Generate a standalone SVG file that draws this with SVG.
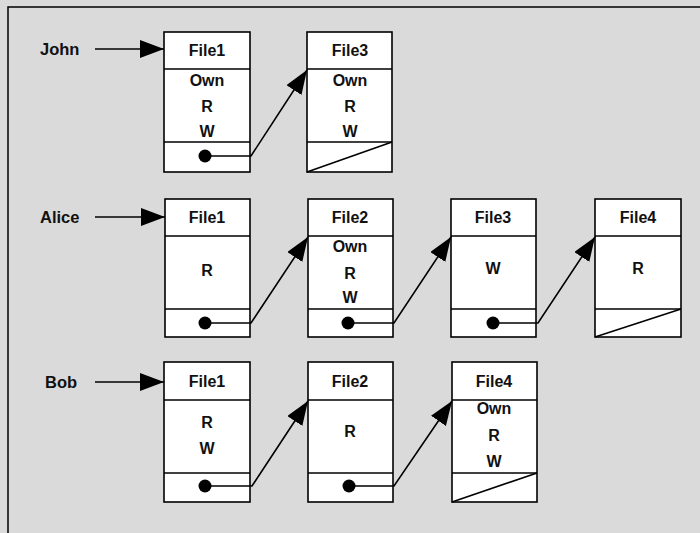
<svg xmlns="http://www.w3.org/2000/svg" width="700" height="533" viewBox="0 0 700 533">
<defs>
<marker id="ah" markerUnits="userSpaceOnUse" markerWidth="26" markerHeight="20" refX="24" refY="9" orient="auto">
<path d="M0,0 L24,9 L0,18 Z" fill="#000"/>
</marker>
<style>
.box{fill:#fff;stroke:#000;stroke-width:1.6}
.sep{stroke:#000;stroke-width:1.6}
.t{font-family:"Liberation Sans",Arial,sans-serif;font-weight:bold;font-size:16px;text-anchor:middle;fill:#111}
.lbl{font-family:"Liberation Sans",Arial,sans-serif;font-weight:bold;font-size:16.5px;fill:#111}
.ln{stroke:#000;stroke-width:1.6;fill:none}
.dot{fill:#000}
</style>
</defs>
<rect x="0" y="0" width="700" height="533" fill="#dadada"/>
<path d="M8,533 V7 H700" fill="none" stroke="#000" stroke-width="1.5"/>

<g id="label-john"><text class="lbl" x="40" y="55">John</text></g>
<g id="label-alice"><text class="lbl" x="40" y="223">Alice</text></g>
<g id="label-bob"><text class="lbl" x="45" y="388">Bob</text></g>

<g id="john-file1">
<rect class="box" x="164" y="32" width="86" height="140"/>
<line class="sep" x1="164" y1="69" x2="250" y2="69"/>
<line class="sep" x1="164" y1="142" x2="250" y2="142"/>
<text class="t" x="207" y="56">File1</text>
<text class="t" x="207" y="86">Own</text>
<text class="t" x="207" y="112">R</text>
<text class="t" x="207" y="137">W</text>
</g>
<g id="john-file3">
<rect class="box" x="307" y="32" width="85" height="140"/>
<line class="sep" x1="307" y1="69" x2="392" y2="69"/>
<line class="sep" x1="307" y1="142" x2="392" y2="142"/>
<text class="t" x="350" y="56">File3</text>
<text class="t" x="350" y="86">Own</text>
<text class="t" x="350" y="112">R</text>
<text class="t" x="350" y="137">W</text>
<line class="sep" x1="307" y1="172" x2="392" y2="142"/>
</g>

<g id="alice-file1">
<rect class="box" x="165" y="199" width="85" height="138"/>
<line class="sep" x1="165" y1="236" x2="250" y2="236"/>
<line class="sep" x1="165" y1="309" x2="250" y2="309"/>
<text class="t" x="207" y="223">File1</text>
<text class="t" x="207" y="276">R</text>
</g>
<g id="alice-file2">
<rect class="box" x="308" y="199" width="85" height="138"/>
<line class="sep" x1="308" y1="236" x2="393" y2="236"/>
<line class="sep" x1="308" y1="309" x2="393" y2="309"/>
<text class="t" x="350" y="223">File2</text>
<text class="t" x="350" y="252">Own</text>
<text class="t" x="350" y="279">R</text>
<text class="t" x="350" y="303">W</text>
</g>
<g id="alice-file3">
<rect class="box" x="451" y="199" width="85" height="138"/>
<line class="sep" x1="451" y1="236" x2="536" y2="236"/>
<line class="sep" x1="451" y1="309" x2="536" y2="309"/>
<text class="t" x="493" y="223">File3</text>
<text class="t" x="493" y="274">W</text>
</g>
<g id="alice-file4">
<rect class="box" x="595" y="199" width="86" height="138"/>
<line class="sep" x1="595" y1="236" x2="681" y2="236"/>
<line class="sep" x1="595" y1="309" x2="681" y2="309"/>
<text class="t" x="638" y="223">File4</text>
<text class="t" x="638" y="274">R</text>
<line class="sep" x1="595" y1="337" x2="681" y2="309"/>
</g>

<g id="bob-file1">
<rect class="box" x="164" y="362" width="86" height="140"/>
<line class="sep" x1="164" y1="400" x2="250" y2="400"/>
<line class="sep" x1="164" y1="473" x2="250" y2="473"/>
<text class="t" x="207" y="387">File1</text>
<text class="t" x="207" y="428">R</text>
<text class="t" x="207" y="454">W</text>
</g>
<g id="bob-file2">
<rect class="box" x="308" y="362" width="85" height="140"/>
<line class="sep" x1="308" y1="400" x2="393" y2="400"/>
<line class="sep" x1="308" y1="473" x2="393" y2="473"/>
<text class="t" x="350" y="387">File2</text>
<text class="t" x="350" y="437">R</text>
</g>
<g id="bob-file4">
<rect class="box" x="452" y="362" width="85" height="140"/>
<line class="sep" x1="452" y1="400" x2="537" y2="400"/>
<line class="sep" x1="452" y1="473" x2="537" y2="473"/>
<text class="t" x="494" y="387">File4</text>
<text class="t" x="494" y="414">Own</text>
<text class="t" x="494" y="441">R</text>
<text class="t" x="494" y="467">W</text>
<line class="sep" x1="452" y1="502" x2="537" y2="473"/>
</g>

<g id="connectors">
<line class="ln" x1="95" y1="49" x2="164" y2="49" marker-end="url(#ah)"/>
<line class="ln" x1="95" y1="217" x2="165" y2="217" marker-end="url(#ah)"/>
<line class="ln" x1="95" y1="382" x2="164" y2="382" marker-end="url(#ah)"/>
<polyline class="ln" points="205,156 251,156 307,70" marker-end="url(#ah)"/>
<polyline class="ln" points="205,323 251,323 308,237" marker-end="url(#ah)"/>
<polyline class="ln" points="348,323 394,323 451,237" marker-end="url(#ah)"/>
<polyline class="ln" points="493,323 538,323 595,237" marker-end="url(#ah)"/>
<polyline class="ln" points="205,486 252,486 308,401" marker-end="url(#ah)"/>
<polyline class="ln" points="349,486 394,486 452,401" marker-end="url(#ah)"/>
<circle class="dot" cx="205" cy="156" r="6.5"/>
<circle class="dot" cx="205" cy="323" r="6.5"/>
<circle class="dot" cx="348" cy="323" r="6.5"/>
<circle class="dot" cx="493" cy="323" r="6.5"/>
<circle class="dot" cx="205" cy="486" r="6.5"/>
<circle class="dot" cx="349" cy="486" r="6.5"/>
</g>
</svg>
